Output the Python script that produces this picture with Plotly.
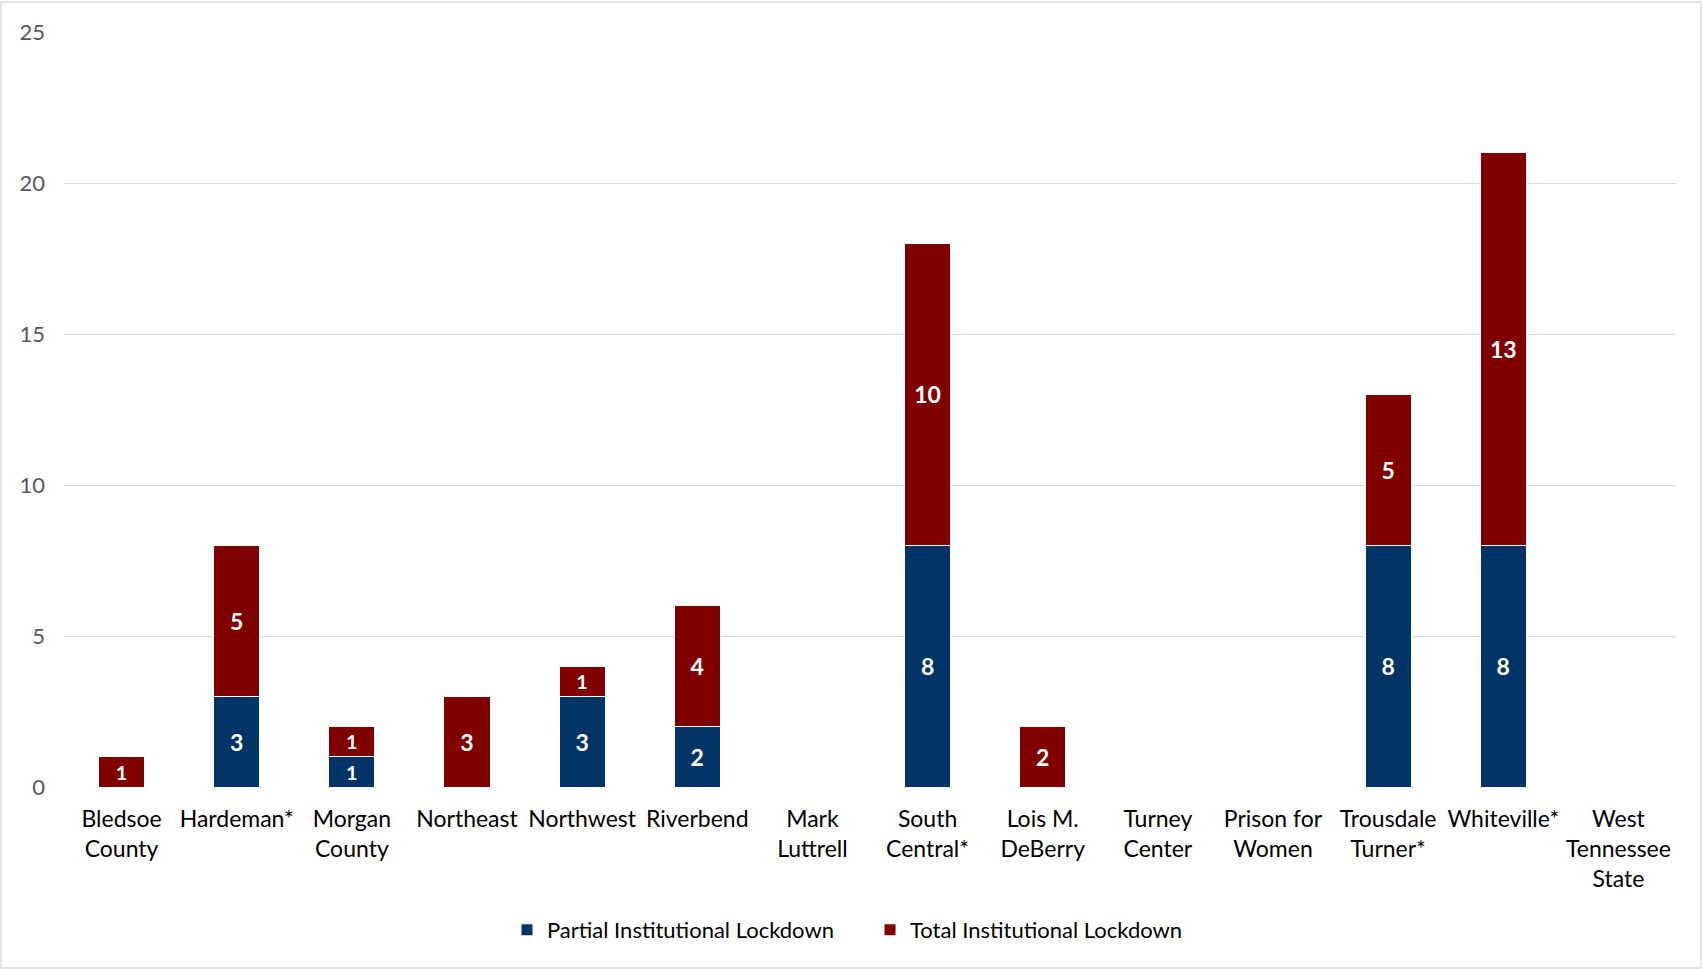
import plotly.graph_objects as go

categories = ["Bledsoe<br>County", "Hardeman*", "Morgan<br>County", "Northeast", "Northwest",
              "Riverbend", "Mark<br>Luttrell", "South<br>Central*", "Lois M.<br>DeBerry",
              "Turney<br>Center", "Prison for<br>Women", "Trousdale<br>Turner*", "Whiteville*",
              "West<br>Tennessee<br>State"]
partial = [0, 3, 1, 0, 3, 2, 0, 8, 0, 0, 0, 8, 8, 0]
total = [1, 5, 1, 3, 1, 4, 0, 10, 2, 0, 0, 5, 13, 0]
y_ticks = [0, 5, 10, 15, 20, 25]

BLUE = "#003366"
RED = "#800000"
FONT = "Lato"

W, H = 1702, 969
ml, mr, mt, mb = 64, 26, 32, 182
pw, ph = W - ml - mr, H - mt - mb

def lbl(vals):
    return [str(v) if v > 0 else "" for v in vals]

fig = go.Figure()
fig.add_trace(go.Bar(
    x=categories, y=partial, name="Partial Institutional Lockdown",
    marker=dict(color=BLUE, line=dict(color="white", width=1)),
    text=lbl(partial), textposition="inside", insidetextanchor="middle",
    textfont=dict(family=FONT, size=23, color="white", weight="bold"),
    textangle=0,
))
fig.add_trace(go.Bar(
    x=categories, y=total, name="Total Institutional Lockdown",
    marker=dict(color=RED, line=dict(color="white", width=1)),
    text=lbl(total), textposition="inside", insidetextanchor="middle",
    textfont=dict(family=FONT, size=23, color="white", weight="bold"),
    textangle=0,
))
# zero labels (white, barely visible on gridline)
zero_cats = [c for c, p, t in zip(categories, partial, total) if p + t == 0]
fig.add_trace(go.Scatter(
    x=zero_cats, y=[0] * len(zero_cats), mode="text", text=["0"] * len(zero_cats),
    textfont=dict(family=FONT, size=14, color="white", weight="bold"),
    showlegend=False, hoverinfo="skip", cliponaxis=False,
))

fig.update_layout(
    width=W, height=H,
    barmode="stack", bargap=0.6,
    plot_bgcolor="white", paper_bgcolor="white",
    margin=dict(l=ml, r=mr, t=mt, b=mb, pad=0),
    font=dict(family=FONT, size=23, color="#000000"),
    showlegend=True,
    legend=dict(orientation="h", x=0.5, xanchor="center", y=-(930 - mt - ph) / ph,
                yanchor="middle", font=dict(family=FONT, size=22, color="#000000"),
                itemwidth=30, traceorder="normal", entrywidth=318),
    xaxis=dict(range=[-0.5, len(categories) - 0.5], showgrid=False, showline=False, ticks="",
               tickfont=dict(family=FONT, size=23, color="#000000"),
               tickangle=0, ticklabelstandoff=16),
    yaxis=dict(range=[0, 25], tickvals=y_ticks, showgrid=True, gridcolor="#d9d9d9", gridwidth=1.3,
               zeroline=False, showline=False, ticks="",
               tickfont=dict(family=FONT, size=22, color="#595959"), ticklabelstandoff=18),
    shapes=[dict(type="rect", xref="paper", yref="paper",
                 x0=-(ml - 1) / pw, x1=1 + (mr - 1) / pw,
                 y0=-(mb - 1) / ph, y1=1 + (mt - 2) / ph,
                 line=dict(color="#d9d9d9", width=1.3), fillcolor="rgba(0,0,0,0)", layer="below")],
)
fig.write_html("out.html")
